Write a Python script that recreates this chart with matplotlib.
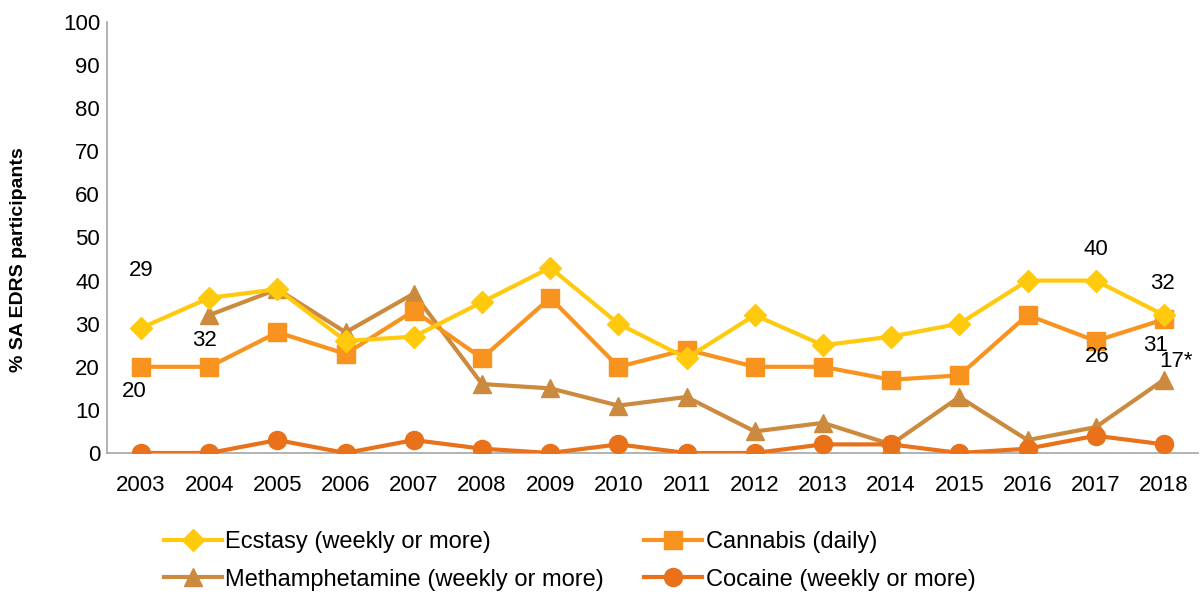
# SA EDRS - weekly or more use of stimulants / daily cannabis, 2003-2018

import numpy as np
import matplotlib.pyplot as plt

plt.rcParams['font.family'] = ['Liberation Sans', 'DejaVu Sans']

# Data
years = [2003, 2004, 2005, 2006, 2007, 2008, 2009, 2010,
         2011, 2012, 2013, 2014, 2015, 2016, 2017, 2018]
ecstasy = [29, 36, 38, 26, 27, 35, 43, 30, 22, 32, 25, 27, 30, 40, 40, 32]
cannabis = [20, 20, 28, 23, 33, 22, 36, 20, 24, 20, 20, 17, 18, 32, 26, 31]
meth = [np.nan, 32, 38, 28, 37, 16, 15, 11, 13, 5, 7, 2, 13, 3, 6, 17]
cocaine = [0, 0, 3, 0, 3, 1, 0, 2, 0, 0, 2, 2, 0, 1, 4, 2]

# Point labels: (series, year index, text)
labels = [
    ('ecstasy', 0, '29'),
    ('cannabis', 0, '20'),
    ('meth', 1, '32'),
    ('ecstasy', 14, '40'),
    ('cannabis', 14, '26'),
    ('ecstasy', 15, '32'),
    ('cannabis', 15, '31'),
    ('meth', 15, '17*'),
]
# where each label sits relative to its point (pixels, x right / y up)
label_offsets = [(0, 58), (-7, -25), (-5, -25), (0, 31),
                 (2, -16), (-1, 32), (-8, -26), (12, 18)]

fig = plt.figure(figsize=(12.01, 5.99), dpi=100)
ax = fig.add_axes([107 / 1201, 1 - 453 / 599, (1198 - 107) / 1201, (453 - 22) / 599])

x = np.arange(len(years))

series = {
    'ecstasy': (ecstasy, 'Ecstasy (weekly or more)', '#FFC90E', 'D', 11),
    'cannabis': (cannabis, 'Cannabis (daily)', '#F7931E', 's', 12.5),
    'meth': (meth, 'Methamphetamine (weekly or more)', '#CC8A3E', '^', 13),
    'cocaine': (cocaine, 'Cocaine (weekly or more)', '#E8711A', 'o', 13),
}

handles = {}
for key in ['meth', 'cocaine', 'cannabis', 'ecstasy']:
    vals, name, col, mk, ms = series[key]
    line, = ax.plot(x, vals, color=col, lw=3, marker=mk, markersize=ms,
                    label=name, zorder=3)
    handles[key] = line

for (key, i, txt), (dx, dy) in zip(labels, label_offsets):
    v = series[key][0][i]
    ax.annotate(txt, (x[i], v), xytext=(dx, dy), textcoords='offset pixels',
                ha='center', va='center', fontsize=16)

ax.set_xlim(-0.5, len(years) - 0.5)
ax.set_ylim(0, 100)
ax.set_yticks(range(0, 101, 10))
ax.set_xticks(x)
ax.set_xticklabels(years)
ax.tick_params(axis='both', length=0, labelsize=16)
ax.tick_params(axis='x', pad=16)
ax.tick_params(axis='y', pad=5)
ax.set_ylabel('% SA EDRS participants', fontsize=14, fontweight='bold')
ax.yaxis.set_label_coords(-0.073, 0.448)

for side in ['top', 'right']:
    ax.spines[side].set_visible(False)
for side in ['left', 'bottom']:
    ax.spines[side].set_color('#A6A6A6')
    ax.spines[side].set_linewidth(1.2)

order = ['ecstasy', 'meth', 'cannabis', 'cocaine']
fig.legend([handles[k] for k in order], [series[k][1] for k in order],
           loc='upper left', bbox_to_anchor=(164 / 1201, 1 - 531 / 599),
           ncol=2, frameon=False, fontsize=17, handlelength=2.45,
           columnspacing=1.7, labelspacing=0.66, handletextpad=0.15,
           borderaxespad=0, borderpad=0)

fig.savefig('out.png', dpi=100)
